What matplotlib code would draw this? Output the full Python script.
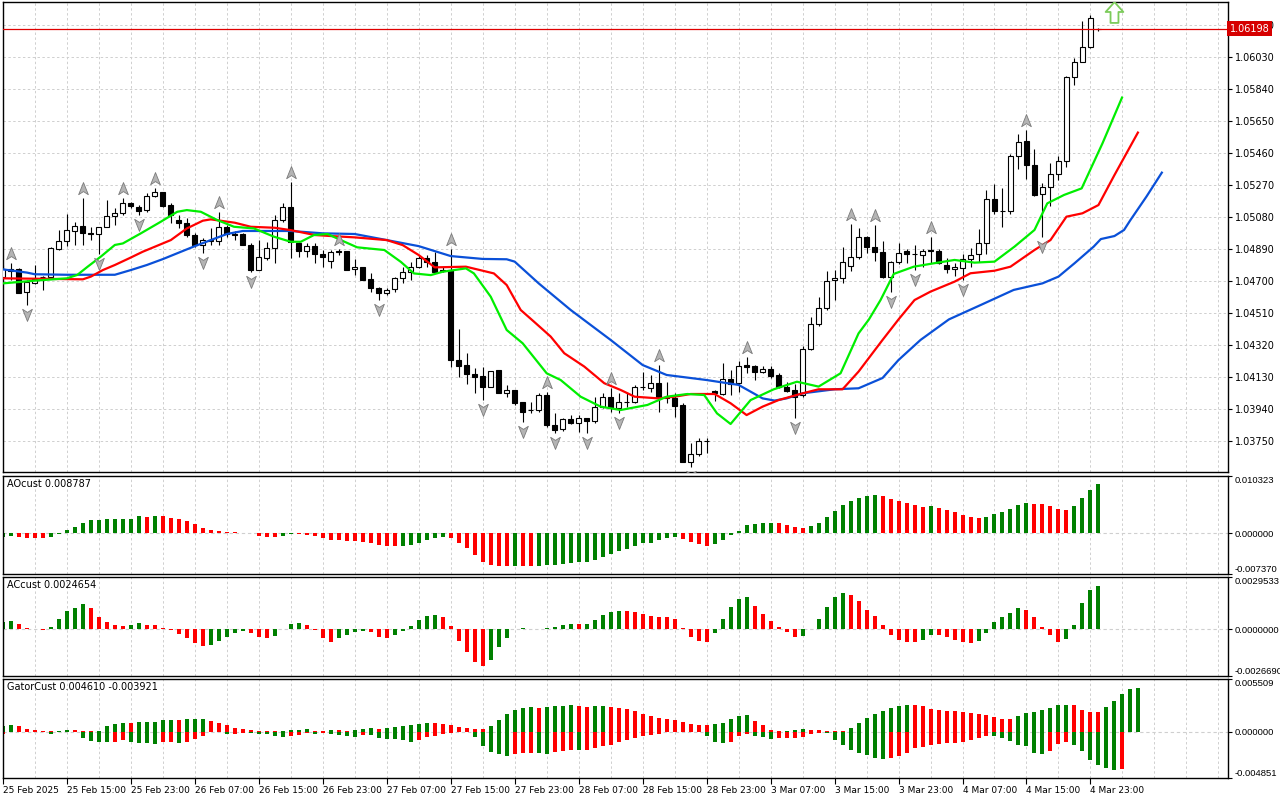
import matplotlib
matplotlib.use("Agg")
import matplotlib.pyplot as plt
from matplotlib.path import Path
from matplotlib.transforms import offset_copy, blended_transform_factory
import numpy as np

# ---------------- data (hourly EURUSD-like bars, bar index 0 = 25 Feb 07:00) ----------------
opens = [1.04726, 1.04769, 1.04769, 1.04637, 1.04690, 1.04726, 1.04726, 1.04888, 1.04937, 1.04998,
         1.05026, 1.04987, 1.04979, 1.05022, 1.05086, 1.05101, 1.05165, 1.05141, 1.05121, 1.05204,
         1.05230, 1.05151, 1.05062, 1.05046, 1.04973, 1.04913, 1.04937, 1.04937, 1.05022, 1.04979,
         1.04979, 1.04913, 1.04765, 1.04838, 1.04894, 1.05062, 1.05141, 1.04923, 1.04880, 1.04907,
         1.04858, 1.04820, 1.04878, 1.04878, 1.04769, 1.04781, 1.04711, 1.04660, 1.04626, 1.04650,
         1.04715, 1.04751, 1.04785, 1.04838, 1.04814, 1.04765, 1.04765, 1.04231, 1.04201, 1.04148,
         1.04138, 1.04069, 1.04172, 1.04037, 1.04053, 1.03980, 1.03934, 1.03934, 1.04023, 1.03845,
         1.03820, 1.03879, 1.03859, 1.03884, 1.03871, 1.03954, 1.04013, 1.03948, 1.03984, 1.03984,
         1.04073, 1.04063, 1.04093, 1.04013, 1.04003, 1.03964, 1.03627, 1.03673, 1.03752, 1.04049,
         1.04027, 1.04116, 1.04093, 1.04201, 1.04195, 1.04162, 1.04176, 1.04142, 1.04073, 1.04053,
         1.04023, 1.04296, 1.04444, 1.04540, 1.04706, 1.04716, 1.04791, 1.04840, 1.04959, 1.04900,
         1.04870, 1.04726, 1.04815, 1.04880, 1.04858, 1.04854, 1.04884, 1.04880, 1.04795, 1.04769,
         1.04775, 1.04828, 1.04860, 1.04927, 1.05185, 1.05118, 1.05118, 1.05442, 1.05533, 1.05389,
         1.05214, 1.05260, 1.05335, 1.05414, 1.05909, 1.06002, 1.06091, 1.06198]
highs = [1.04795, 1.04805, 1.04775, 1.04706, 1.04795, 1.04730, 1.04900, 1.05002, 1.05097, 1.05052,
         1.05194, 1.05022, 1.05022, 1.05181, 1.05131, 1.05190, 1.05171, 1.05151, 1.05220, 1.05250,
         1.05230, 1.05161, 1.05091, 1.05072, 1.04983, 1.04953, 1.05012, 1.05111, 1.05032, 1.04998,
         1.04983, 1.04923, 1.04943, 1.04933, 1.05091, 1.05161, 1.05289, 1.04933, 1.04927, 1.04923,
         1.04884, 1.04884, 1.04888, 1.04878, 1.04828, 1.04781, 1.04745, 1.04666, 1.04656, 1.04725,
         1.04785, 1.04814, 1.04854, 1.04854, 1.04874, 1.04785, 1.04888, 1.04413, 1.04275, 1.04182,
         1.04191, 1.04168, 1.04172, 1.04083, 1.04053, 1.03984, 1.03984, 1.04033, 1.04043, 1.03914,
         1.03889, 1.03904, 1.03904, 1.03884, 1.04013, 1.04037, 1.04063, 1.04033, 1.04033, 1.04083,
         1.04162, 1.04142, 1.04201, 1.04102, 1.04033, 1.03974, 1.03736, 1.03766, 1.03766, 1.04053,
         1.04211, 1.04172, 1.04227, 1.04251, 1.04201, 1.04195, 1.04195, 1.04152, 1.04102, 1.04089,
         1.04316, 1.04484, 1.04607, 1.04760, 1.04765, 1.04904, 1.05039, 1.05013, 1.04967, 1.05033,
         1.04939, 1.04821, 1.04924, 1.04888, 1.04914, 1.04888, 1.04963, 1.04888, 1.04835, 1.04805,
         1.04860, 1.04894, 1.05007, 1.05240, 1.05276, 1.05250, 1.05454, 1.05573, 1.05597, 1.05482,
         1.05284, 1.05399, 1.05442, 1.05917, 1.06022, 1.06241, 1.06279, 1.06205]
lows = [1.04720, 1.04706, 1.04631, 1.04558, 1.04680, 1.04647, 1.04720, 1.04884, 1.04907, 1.04913,
        1.04913, 1.04943, 1.04858, 1.05022, 1.05032, 1.05091, 1.05131, 1.05091, 1.05111, 1.05200,
        1.05141, 1.05042, 1.05012, 1.04963, 1.04903, 1.04868, 1.04913, 1.04913, 1.04963, 1.04943,
        1.04913, 1.04755, 1.04765, 1.04824, 1.04805, 1.05052, 1.04834, 1.04844, 1.04844, 1.04805,
        1.04781, 1.04775, 1.04854, 1.04765, 1.04735, 1.04706, 1.04636, 1.04587, 1.04616, 1.04636,
        1.04686, 1.04706, 1.04775, 1.04785, 1.04755, 1.04755, 1.04191, 1.04132, 1.04089, 1.04033,
        1.03994, 1.04069, 1.04033, 1.04013, 1.03964, 1.03865, 1.03914, 1.03924, 1.03835, 1.03796,
        1.03810, 1.03851, 1.03805, 1.03796, 1.03859, 1.03944, 1.03924, 1.03918, 1.03954, 1.03978,
        1.04053, 1.04043, 1.03924, 1.03974, 1.03895, 1.03627, 1.03594, 1.03661, 1.03681, 1.03990,
        1.04023, 1.04023, 1.04043, 1.04152, 1.04112, 1.04156, 1.04122, 1.04063, 1.04043, 1.03885,
        1.04013, 1.04292, 1.04434, 1.04530, 1.04587, 1.04686, 1.04761, 1.04829, 1.04864, 1.04821,
        1.04716, 1.04637, 1.04801, 1.04805, 1.04765, 1.04785, 1.04805, 1.04801, 1.04745, 1.04730,
        1.04706, 1.04785, 1.04815, 1.04860, 1.05098, 1.05023, 1.05098, 1.05363, 1.05304, 1.05205,
        1.04959, 1.05146, 1.05300, 1.05375, 1.05864, 1.06002, 1.06081, 1.06186]
closes = [1.04769, 1.04761, 1.04631, 1.04696, 1.04710, 1.04726, 1.04894, 1.04937, 1.05002, 1.05026,
          1.04983, 1.04979, 1.05018, 1.05086, 1.05101, 1.05161, 1.05147, 1.05117, 1.05204, 1.05226,
          1.05147, 1.05091, 1.05042, 1.04973, 1.04913, 1.04943, 1.04943, 1.05022, 1.04979, 1.04973,
          1.04913, 1.04765, 1.04844, 1.04894, 1.05062, 1.05141, 1.04933, 1.04880, 1.04907, 1.04858,
          1.04844, 1.04872, 1.04872, 1.04765, 1.04781, 1.04706, 1.04656, 1.04626, 1.04646, 1.04715,
          1.04753, 1.04785, 1.04838, 1.04814, 1.04755, 1.04761, 1.04231, 1.04195, 1.04146, 1.04132,
          1.04069, 1.04168, 1.04037, 1.04053, 1.03974, 1.03924, 1.03934, 1.04023, 1.03845, 1.03815,
          1.03879, 1.03859, 1.03884, 1.03871, 1.03954, 1.04013, 1.03944, 1.03984, 1.03984, 1.04073,
          1.04069, 1.04093, 1.04003, 1.04003, 1.03958, 1.03627, 1.03673, 1.03752, 1.03750, 1.04037,
          1.04116, 1.04089, 1.04195, 1.04191, 1.04162, 1.04176, 1.04136, 1.04073, 1.04049, 1.04013,
          1.04296, 1.04444, 1.04540, 1.04700, 1.04716, 1.04815, 1.04844, 1.04959, 1.04900, 1.04870,
          1.04726, 1.04815, 1.04864, 1.04860, 1.04858, 1.04880, 1.04880, 1.04805, 1.04769, 1.04781,
          1.04828, 1.04854, 1.04927, 1.05185, 1.05118, 1.05114, 1.05442, 1.05527, 1.05389, 1.05211,
          1.05260, 1.05335, 1.05414, 1.05909, 1.06002, 1.06087, 1.06260, 1.06198]

# Alligator lines (bar position, price)
jaw_x = [0, 3, 4, 8, 12, 14, 16, 18, 20, 24, 28, 30, 36, 40, 44, 48, 52, 56, 60, 63, 64, 67, 71, 76,
         80, 83, 88, 92, 95, 96.5, 98, 100, 104, 107, 110, 112, 114.75, 118.3, 122.3, 126.4, 130, 132,
         134, 136.4, 137.3, 139, 140.2, 141, 143, 145]
jaw_y = [1.04769, 1.04750, 1.04740, 1.04737, 1.04737, 1.04737, 1.04765, 1.04795, 1.04830, 1.04907,
         1.04979, 1.04997, 1.04997, 1.04983, 1.04979, 1.04943, 1.04907, 1.04848, 1.04831, 1.04829,
         1.04815, 1.04686, 1.04528, 1.04350, 1.04201, 1.04142, 1.04112, 1.04083, 1.04003, 1.03990,
         1.04003, 1.04033, 1.04057, 1.04063, 1.04124, 1.04231, 1.04350, 1.04472, 1.04558, 1.04647,
         1.04686, 1.04726, 1.04805, 1.04904, 1.04949, 1.04967, 1.05003, 1.05062, 1.05201, 1.05349]
teeth_x = [0, 10, 11, 12.5, 14, 15.8, 17.5, 21, 23, 25, 26, 29, 31, 34, 36, 39, 41, 44, 48, 50, 52,
           54, 57.9, 61.4, 63, 64.75, 66.4, 68.5, 70.2, 72.7, 75.2, 77.25, 79, 82, 84, 86, 89, 91, 93,
           95, 97, 100, 102, 105, 107, 110, 112, 114, 116, 119, 121, 124, 126, 129, 131, 133, 135, 137,
           139, 142]
teeth_y = [1.04716, 1.04710, 1.04726, 1.04765, 1.04795, 1.04835, 1.04874, 1.04943, 1.05012, 1.05058,
           1.05066, 1.05046, 1.05022, 1.05016, 1.05002, 1.04973, 1.04967, 1.04959, 1.04943, 1.04913,
           1.04854, 1.04781, 1.04785, 1.04745, 1.04676, 1.04528, 1.04459, 1.04370, 1.04271, 1.04192,
           1.04093, 1.04053, 1.04013, 1.04003, 1.04013, 1.04029, 1.04029, 1.03974, 1.03904, 1.03954,
           1.03993, 1.04033, 1.04057, 1.04057, 1.04162, 1.04350, 1.04472, 1.04587, 1.04637, 1.04696,
           1.04746, 1.04761, 1.04785, 1.04884, 1.04943, 1.05082, 1.05102, 1.05151, 1.05329, 1.05587]
lips_x = [0, 4, 8, 9.3, 10.6, 12.25, 14, 15, 17.25, 19.75, 21.8, 23, 24.75, 26.8, 28.9, 31.4, 33.9, 36,
          37.25, 38.9, 40.6, 42.25, 44.3, 47.7, 49.75, 51.4, 53.5, 55, 57.9, 58.9, 61, 63, 65, 68,
          69.75, 72.25, 74.75, 77.25, 80.6, 83, 85.6, 87.7, 89.3, 91, 93.5, 96.4, 99.3, 102, 104.75,
          107, 108.3, 109.75, 111.4, 113.9, 116.4, 119, 121.5, 124, 126.5, 129, 130.6, 132.7, 134.9,
          137.5, 140]
lips_y = [1.04686, 1.04702, 1.04716, 1.04736, 1.04785, 1.04845, 1.04914, 1.04923, 1.04983, 1.05052,
          1.05111, 1.05121, 1.05111, 1.05062, 1.05022, 1.05012, 1.04963, 1.04933, 1.04933, 1.04973,
          1.04979, 1.04943, 1.04900, 1.04884, 1.04814, 1.04745, 1.04735, 1.04755, 1.04775, 1.04745,
          1.04607, 1.04409, 1.04330, 1.04152, 1.04112, 1.04013, 1.03954, 1.03934, 1.03964, 1.04013,
          1.04029, 1.04023, 1.03914, 1.03851, 1.03993, 1.04057, 1.04102, 1.04073, 1.04152, 1.04389,
          1.04472, 1.04587, 1.04742, 1.04785, 1.04805, 1.04825, 1.04809, 1.04815, 1.04904, 1.05003,
          1.05161, 1.05211, 1.05250, 1.05517, 1.05795]

fractal_up = [1, 10, 15, 19, 27, 36, 42, 56, 68, 76, 82, 93, 106, 109, 116, 128]
fractal_down = [3, 12, 17, 25, 31, 47, 60, 65, 69, 73, 77, 86, 99, 111, 114, 120, 130]
current_price = 1.06198
signal_bar, signal_price = 139, 1.06300

ao = [-0.00072, -0.00048, -0.00060, -0.00084, -0.00084, -0.00084, -0.00060, -0.00006, 0.00054, 0.00108,
      0.00191, 0.00233, 0.00245, 0.00251, 0.00257, 0.00257, 0.00263, 0.00305, 0.00299, 0.00305,
      0.00305, 0.00281, 0.00257, 0.00221, 0.00161, 0.00096, 0.00060, 0.00042, 0.00030, 0.00018,
      0.00012, 0.00006, -0.00042, -0.00060, -0.00078, -0.00054, -0.00018, -0.00018, -0.00030, -0.00042,
      -0.00096, -0.00132, -0.00132, -0.00150, -0.00150, -0.00167, -0.00185, -0.00221, -0.00239, -0.00239,
      -0.00233, -0.00221, -0.00173, -0.00132, -0.00096, -0.00078, -0.00096, -0.00185, -0.00275, -0.00401,
      -0.00526, -0.00580, -0.00586, -0.00592, -0.00586, -0.00592, -0.00592, -0.00586, -0.00580, -0.00568,
      -0.00556, -0.00544, -0.00526, -0.00514, -0.00478, -0.00425, -0.00371, -0.00317, -0.00281, -0.00227,
      -0.00185, -0.00173, -0.00132, -0.00096, -0.00078, -0.00114, -0.00167, -0.00203, -0.00239, -0.00203,
      -0.00132, -0.00036, 0.00036, 0.00144, 0.00161, 0.00179, 0.00185, 0.00179, 0.00144, 0.00108,
      0.00090, 0.00132, 0.00179, 0.00293, 0.00401, 0.00508, 0.00580, 0.00634, 0.00670, 0.00688,
      0.00670, 0.00616, 0.00580, 0.00544, 0.00508, 0.00472, 0.00490, 0.00454, 0.00419, 0.00383,
      0.00329, 0.00287, 0.00269, 0.00287, 0.00341, 0.00377, 0.00431, 0.00502, 0.00538, 0.00532,
      0.00520, 0.00484, 0.00431, 0.00413, 0.00484, 0.00628, 0.00771, 0.00879]
ao_colors = ("GG" "RRRR" "GGGGGGGGGGGG" "R" "G" "RRRRRRRRRRRRRRR" "GG" "RRRRRRRRRRRRR" "GGGGGG"
             "RRRRRRRR" "G" "RR" "GGGGGGGGGGGGGGGGGG" "RRRR" "GGGGGGGG" "RRRR" "GGGGGGGGG" "RRRRRR"
             "G" "RRRRRR" "GGGGGG" "RRRRR" "GGGG")

ac = [0.000374, 0.000448, 0.000280, 0.000037, -0.000019, -0.000037, 0.000112, 0.000560, 0.001010, 0.001180,
      0.001400, 0.001180, 0.000672, 0.000411, 0.000224, 0.000168, 0.000224, 0.000336, 0.000224, 0.000224,
      0.000056, -0.000075, -0.000262, -0.000504, -0.000822, -0.000990, -0.000934, -0.000654, -0.000430, -0.000243,
      -0.000093, -0.000243, -0.000430, -0.000486, -0.000374, -0.000019, 0.000299, 0.000336, 0.000224, -0.000037,
      -0.000486, -0.000710, -0.000504, -0.000336, -0.000149, -0.000093, -0.000187, -0.000448, -0.000504, -0.000336,
      -0.000093, 0.000168, 0.000504, 0.000729, 0.000785, 0.000672, 0.000168, -0.000654, -0.001330, -0.001890,
      -0.002110, -0.001770, -0.001050, -0.000504, -0.000019, 0.000037, 0.000019, 0.000028, 0.000037, 0.000093,
      0.000224, 0.000280, 0.000275, 0.000280, 0.000504, 0.000785, 0.000953, 0.001010, 0.001000, 0.000953,
      0.000841, 0.000729, 0.000672, 0.000670, 0.000560, 0.000037, -0.000430, -0.000654, -0.000710, -0.000205,
      0.000560, 0.001230, 0.001680, 0.001790, 0.001290, 0.000841, 0.000448, 0.000112, -0.000149, -0.000430,
      -0.000374, -0.000019, 0.000560, 0.001230, 0.001790, 0.002020, 0.001910, 0.001570, 0.001060, 0.000729,
      0.000224, -0.000318, -0.000598, -0.000710, -0.000766, -0.000598, -0.000318, -0.000320, -0.000430, -0.000598,
      -0.000766, -0.000770, -0.000654, -0.000205, 0.000392, 0.000672, 0.000897, 0.001180, 0.001060, 0.000672,
      0.000112, -0.000318, -0.000710, -0.000542, 0.000224, 0.001460, 0.002190, 0.002465]
ac_colors = ("GG" "RRRR" "GGGGG" "RRRRR" "GG" "RRRRRRRR" "GGGGG" "RRR" "GGGG" "RRRR" "GGGG" "RRR"
             "GGGGGG" "RRRRRR" "GGGGG" "R" "GGGGG" "R" "GGGGG" "RRRRRRRRRRR" "GGGGG" "RRRRRR"
             "GGGGGG" "RRRRRRRRR" "GG" "RRRRR" "GGGGGG" "RRRRR" "GGGGG")

gator_up = [0.000628, 0.000698, 0.000558, 0.000244, 0.000210, 0.000105, 0.000035, 0.000105, 0.000210, 0.000200,
            0.000070, 0.000035, 0.000105, 0.000558, 0.000803, 0.000942, 0.000930, 0.000977, 0.001010, 0.001050,
            0.001190, 0.001260, 0.001250, 0.001290, 0.001330, 0.001360, 0.001120, 0.000907, 0.000733, 0.000419,
            0.000280, 0.000210, 0.000070, 0.000035, 0.000030, 0.000040, 0.000140, 0.000210, 0.000280, 0.000105,
            0.000070, 0.000210, 0.000175, 0.000105, 0.000210, 0.000280, 0.000419, 0.000280, 0.000419, 0.000454,
            0.000628, 0.000733, 0.000838, 0.000942, 0.000930, 0.000838, 0.000733, 0.000524, 0.000419, 0.000314,
            0.000310, 0.000628, 0.001260, 0.001880, 0.002300, 0.002510, 0.002550, 0.002510, 0.002580, 0.002650,
            0.002720, 0.002750, 0.002690, 0.002620, 0.002650, 0.002690, 0.002620, 0.002510, 0.002410, 0.002200,
            0.001880, 0.001680, 0.001470, 0.001360, 0.001260, 0.001050, 0.000838, 0.000733, 0.000730, 0.000838,
            0.000942, 0.001360, 0.001680, 0.001690, 0.001150, 0.000733, 0.000210, 0.000070, 0.000105, 0.000210,
            0.000310, 0.000210, 0.000200, 0.000105, 0.000035, 0.000030, 0.000419, 0.000942, 0.001470, 0.001880,
            0.002200, 0.002510, 0.002720, 0.002830, 0.002820, 0.002720, 0.002410, 0.002300, 0.002200, 0.002170,
            0.002090, 0.001990, 0.001880, 0.001780, 0.001570, 0.001360, 0.001350, 0.001680, 0.001990, 0.002090,
            0.002300, 0.002510, 0.002830, 0.002840, 0.002830, 0.002300, 0.002090, 0.002080, 0.002620, 0.003250,
            0.003980, 0.004470, 0.004610]
gator_up_colors = ("GG" "RRRRR" "GG" "RRR" "GGGG" "R" "GGGGG" "R" "GGG" "RRRRRRRRR" "GGGG" "RR" "G" "RR"
                   "GGG" "R" "GGGGGG" "RRRRRRR" "GGGGGG" "R" "GGGG" "RR" "GG" "RRRRRRRRRRRRR" "GGGGG"
                   "RRRR" "GGG" "RRRRR" "GGGGGGGG" "RRRRRRRRRRRRR" "GGGGGGG" "RRRR" "GGGGG")
gator_down = [-0.000280, -0.000070, -0.000035, -0.000030, -0.000025, -0.000070, -0.000210, -0.000070, -0.000035, -0.000070,
              -0.000628, -0.000942, -0.001050, -0.001120, -0.001110, -0.000838, -0.001120, -0.001150, -0.001190, -0.001260,
              -0.001050, -0.001040, -0.001150, -0.001050, -0.000768, -0.000489, -0.000070, -0.000035, -0.000280, -0.000270,
              -0.000140, -0.000150, -0.000244, -0.000280, -0.000454, -0.000558, -0.000454, -0.000384, -0.000175, -0.000280,
              -0.000140, -0.000244, -0.000349, -0.000489, -0.000524, -0.000314, -0.000349, -0.000628, -0.000733, -0.000740,
              -0.000907, -0.001050, -0.000907, -0.000593, -0.000489, -0.000280, -0.000175, -0.000035, -0.000030, -0.000593,
              -0.001470, -0.002090, -0.002370, -0.002510, -0.002370, -0.002200, -0.002190, -0.002200, -0.002300, -0.002160,
              -0.002020, -0.001950, -0.001960, -0.001880, -0.001750, -0.001540, -0.001400, -0.001120, -0.000838, -0.000628,
              -0.000489, -0.000384, -0.000280, -0.000050, -0.000070, -0.000030, -0.000020, -0.000070, -0.000489, -0.001120,
              -0.001220, -0.001120, -0.000489, -0.000210, -0.000489, -0.000593, -0.000803, -0.000698, -0.000690, -0.000680,
              -0.000593, -0.000280, -0.000105, -0.000140, -0.000838, -0.001430, -0.001950, -0.002270, -0.002480, -0.002790,
              -0.002900, -0.002790, -0.002580, -0.002270, -0.001750, -0.001640, -0.001430, -0.001330, -0.001220, -0.001210,
              -0.001120, -0.000838, -0.000628, -0.000489, -0.000500, -0.000698, -0.001010, -0.001430, -0.001540, -0.002270,
              -0.002340, -0.002060, -0.001330, -0.001120, -0.001430, -0.002060, -0.002930, -0.003490, -0.003840, -0.003980,
              -0.003921]
gator_down_colors = ("RRRRR" "GG" "RR" "GGGGG" "RR" "GGGG" "RR" "G" "RRRRR" "G" "RR" "GGGGG" "RRR" "G" "R"
                     "GGGG" "R" "GGGGGG" "RRRRRRR" "GGGGG" "RRR" "GG" "RRR" "G" "RRRRRRRRRRR" "G" "RR"
                     "GGGG" "RRR" "GGG" "RRRRRR" "GGGGGGGG" "RRRRRRRRRRRRR" "GGGGGGG" "RRR" "GGGGGG" "R")

price_ticks = [1.03750, 1.03940, 1.04130, 1.04320, 1.04510, 1.04700, 1.04890, 1.05080,
               1.05270, 1.05460, 1.05650, 1.05840, 1.06030, 1.06220]
time_tick_bars = [0, 8, 16, 24, 32, 40, 48, 56, 64, 72, 80, 88, 96, 104, 112, 120, 128, 136]
time_tick_labels = ["25 Feb 2025", "25 Feb 15:00", "25 Feb 23:00", "26 Feb 07:00", "26 Feb 15:00",
                    "26 Feb 23:00", "27 Feb 07:00", "27 Feb 15:00", "27 Feb 23:00", "28 Feb 07:00",
                    "28 Feb 15:00", "28 Feb 23:00", "3 Mar 07:00", "3 Mar 15:00", "3 Mar 23:00",
                    "4 Mar 07:00", "4 Mar 15:00", "4 Mar 23:00"]
ao_range = (-0.007370, 0.010323)
ac_range = (-0.0026690, 0.0029533)
gator_range = (-0.004851, 0.005509)
price_range = (1.035659, 1.063566)

# ---------------- figure ----------------
W, H = 1280, 800
fig = plt.figure(figsize=(12.8, 8), dpi=100)
fig.patch.set_facecolor("white")


def rect(top, bottom, left=2.5, right=1228.0):
    return [left / W, 1 - bottom / H, (right - left) / W, (bottom - top) / H]


ax = fig.add_axes(rect(2, 472))
ax_ao = fig.add_axes(rect(476, 574))
ax_ac = fig.add_axes(rect(577, 676))
ax_g = fig.add_axes(rect(679, 778))
axes = [ax, ax_ao, ax_ac, ax_g]

XMIN, XMAX = -0.05, 153.2
GRID = dict(color="#CFCFCF", lw=0.7, linestyle=(0, (2.5, 2.5)), zorder=0)
COL = {"G": "#008000", "R": "#FF0000"}

for a in axes:
    a.set_xlim(XMIN, XMAX)
    for s in a.spines.values():
        s.set_color("black")
        s.set_linewidth(1.0)
    for kk in range(4, 153, 4):
        a.axvline(kk, **GRID)
    a.yaxis.tick_right()
    a.tick_params(axis="y", direction="out", length=3, pad=2, labelsize=7, colors="black")
    a.tick_params(axis="x", bottom=False, labelbottom=False)

# ---- main price chart ----
n = len(opens)
assert len(highs) == n and len(lows) == n and len(closes) == n
kx = np.arange(n)
o = np.array(opens); h = np.array(highs); l = np.array(lows); c = np.array(closes)
bull = c >= o
ax.set_ylim(*price_range)
for p in price_ticks:
    ax.axhline(p, **GRID)
ax.vlines(kx, l, h, color="black", lw=0.8, zorder=2)
ax.bar(kx, np.abs(c - o), bottom=np.minimum(o, c), width=0.62,
       color=np.where(bull, "white", "black"), edgecolor="black", linewidth=0.8, zorder=3)

ax.plot(jaw_x, jaw_y, color="#0A50D8", lw=1.6, zorder=4, solid_capstyle="butt")
ax.plot(teeth_x, teeth_y, color="#FF0000", lw=1.6, zorder=4, solid_capstyle="butt")
ax.plot(lips_x, lips_y, color="#00EE00", lw=1.6, zorder=4, solid_capstyle="butt")

up_path = Path([(0, 1), (0.7, -0.75), (0, -0.3), (-0.7, -0.75), (0, 1)],
               [Path.MOVETO, Path.LINETO, Path.LINETO, Path.LINETO, Path.CLOSEPOLY])
dn_path = Path([(0, -1), (0.7, 0.75), (0, 0.3), (-0.7, 0.75), (0, -1)],
               [Path.MOVETO, Path.LINETO, Path.LINETO, Path.LINETO, Path.CLOSEPOLY])
tr_up = offset_copy(ax.transData, fig=fig, y=9, units="dots")
tr_dn = offset_copy(ax.transData, fig=fig, y=-9, units="dots")
ax.plot(fractal_up, h[fractal_up], linestyle="none", marker=up_path, ms=10,
        mfc="#B4B4B4", mec="#7A7A7A", mew=0.6, transform=tr_up, zorder=5)
ax.plot(fractal_down, l[fractal_down], linestyle="none", marker=dn_path, ms=10,
        mfc="#B4B4B4", mec="#7A7A7A", mew=0.6, transform=tr_dn, zorder=5)

ax.axhline(current_price, color="#E00000", lw=0.9, zorder=3)
arrow_path = Path([(0, 1), (0.85, 0.05), (0.38, 0.05), (0.38, -1), (-0.38, -1),
                   (-0.38, 0.05), (-0.85, 0.05), (0, 1)],
                  [Path.MOVETO] + [Path.LINETO] * 6 + [Path.CLOSEPOLY])
ax.plot([signal_bar], [signal_price], linestyle="none", marker=arrow_path, ms=15,
        mfc="white", mec="#7CCB5A", mew=1.3, zorder=6)

ax.set_yticks(price_ticks)
ax.set_yticklabels([f"{p:.5f}" for p in price_ticks])
btr = blended_transform_factory(ax.transAxes, ax.transData)
ax.text(1.0015, current_price, f"{current_price:.5f}", transform=btr, color="white",
        fontsize=7, ha="left", va="center", clip_on=False, zorder=20,
        bbox=dict(boxstyle="square,pad=0.25", fc="#D60000", ec="none"))


# ---- indicator panels ----
def hist(a, vals, colors, rng, fmt, title):
    assert len(vals) == len(colors), (title, len(vals), len(colors))
    a.set_ylim(*rng)
    a.axhline(0, color="#CFCFCF", lw=0.8, linestyle=(0, (3, 2.5)), zorder=1)
    xs = np.arange(len(vals))
    a.bar(xs, vals, width=0.5, color=[COL[ch] for ch in colors], zorder=2)
    ticks = [rng[0], 0.0, rng[1]]
    a.set_yticks(ticks)
    labs = a.set_yticklabels([fmt.format(t) for t in ticks],
                             fontfamily="Liberation Sans", fontsize=6.8)
    labs[0].set_va("bottom")
    labs[2].set_va("top")
    a.tick_params(axis="y", pad=1.5)
    if title:
        a.text(0.004, 0.965, title, transform=a.transAxes, fontsize=7, va="top", ha="left")


assert len(ao) == n and len(ac) == n
hist(ax_ao, ao, ao_colors, ao_range, "{:.6f}", "AOcust 0.008787")
hist(ax_ac, ac, ac_colors, ac_range, "{:.7f}", "ACcust 0.0024654")
hist(ax_g, gator_up, gator_up_colors, gator_range, "{:.6f}", "GatorCust 0.004610 -0.003921")
gx = np.arange(len(gator_down))
assert len(gator_down) == len(gator_down_colors)
ax_g.bar(gx, gator_down, width=0.5, color=[COL[ch] for ch in gator_down_colors], zorder=2)

# ---- time axis ----
ax_g.tick_params(axis="x", bottom=True, labelbottom=True, direction="out", length=4,
                 pad=2, labelsize=6.5, colors="black")
ax_g.set_xticks(time_tick_bars)
ax_g.set_xticklabels(time_tick_labels, ha="left")

fig.savefig("out.png", dpi=100, facecolor="white")
